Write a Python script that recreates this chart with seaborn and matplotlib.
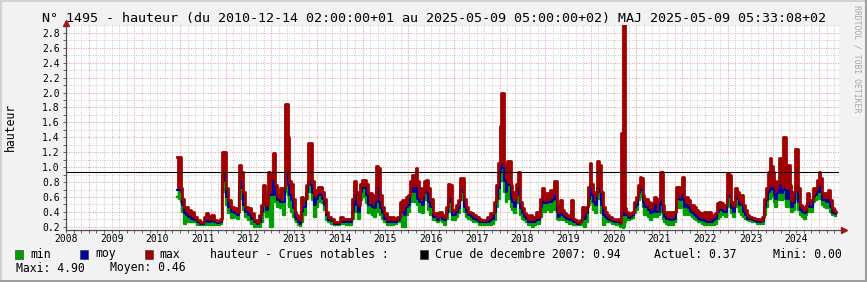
import matplotlib
matplotlib.use("Agg")
import matplotlib.pyplot as plt
import seaborn as sns
import numpy as np
from matplotlib.patches import Rectangle
from matplotlib.lines import Line2D
from matplotlib.ticker import FixedLocator, FuncFormatter, FormatStrFormatter

# ---------------- data (decimal years, heights in m) ----------------
t = [2010.934, 2011.007, 2011.029, 2011.066, 2011.102, 2011.153, 2011.205, 2011.263, 2011.336, 2011.409,
     2011.482, 2011.555, 2011.592, 2011.643, 2011.701, 2011.774, 2011.847, 2011.906, 2011.935, 2011.993,
     2012.037, 2012.081, 2012.140, 2012.213, 2012.271, 2012.322, 2012.359, 2012.395, 2012.446, 2012.519,
     2012.592, 2012.651, 2012.709, 2012.760, 2012.797, 2012.833, 2012.870, 2012.907, 2012.958, 2013.001,
     2013.053, 2013.104, 2013.162, 2013.235,
     2013.272, 2013.308, 2013.337, 2013.374, 2013.410, 2013.454, 2013.491, 2013.527, 2013.564, 2013.600,
     2013.637, 2013.673, 2013.732, 2013.783, 2013.834, 2013.878, 2013.907, 2013.951, 2013.995, 2014.039,
     2014.082, 2014.126, 2014.170, 2014.221, 2014.272, 2014.331, 2014.404, 2014.477, 2014.535, 2014.594,
     2014.659, 2014.732, 2014.784, 2014.827, 2014.871, 2014.915, 2014.959, 2015.003, 2015.047, 2015.098,
     2015.134, 2015.178, 2015.222, 2015.266, 2015.317, 2015.368, 2015.397, 2015.441, 2015.499, 2015.558,
     2015.616, 2015.675,
     2015.718, 2015.791, 2015.850, 2015.893, 2015.937, 2015.981, 2016.025, 2016.069, 2016.098, 2016.142,
     2016.178, 2016.215, 2016.251, 2016.288, 2016.332, 2016.375, 2016.419, 2016.463, 2016.507, 2016.595,
     2016.653, 2016.711, 2016.755, 2016.799, 2016.850, 2016.887, 2016.931, 2016.974, 2017.018, 2017.062,
     2017.106, 2017.150, 2017.194, 2017.237, 2017.281, 2017.340, 2017.398, 2017.457, 2017.515, 2017.573,
     2017.632, 2017.690, 2017.763, 2017.822, 2017.866, 2017.909, 2017.953, 2017.983, 2018.019, 2018.048,
     2018.077, 2018.113, 2018.157, 2018.186, 2018.230, 2018.260, 2018.303, 2018.347, 2018.384, 2018.406,
     2018.435, 2018.464, 2018.508, 2018.552, 2018.603, 2018.654, 2018.698, 2018.742, 2018.785, 2018.829,
     2018.873, 2018.917, 2018.961, 2019.005, 2019.048, 2019.092, 2019.121, 2019.165, 2019.209, 2019.238,
     2019.268, 2019.311, 2019.355, 2019.399, 2019.443, 2019.487, 2019.545, 2019.589, 2019.633, 2019.677,
     2019.735, 2019.793, 2019.837, 2019.867, 2019.910, 2019.954, 2019.991, 2020.027, 2020.071, 2020.115,
     2020.159, 2020.203, 2020.246, 2020.290, 2020.334, 2020.378, 2020.436, 2020.495,
     2020.523, 2020.567, 2020.611, 2020.655, 2020.684, 2020.713, 2020.735, 2020.757, 2020.801, 2020.845,
     2020.889, 2020.932, 2020.976, 2021.020, 2021.064, 2021.093, 2021.122, 2021.152, 2021.195, 2021.239,
     2021.283, 2021.327, 2021.371, 2021.415, 2021.458, 2021.502, 2021.531, 2021.561, 2021.590, 2021.634,
     2021.678, 2021.721, 2021.765, 2021.809, 2021.853, 2021.897, 2021.941, 2021.984, 2022.014, 2022.057,
     2022.101, 2022.145, 2022.189, 2022.233, 2022.277, 2022.320, 2022.364, 2022.408, 2022.452, 2022.496,
     2022.554, 2022.613, 2022.656, 2022.700, 2022.744, 2022.788, 2022.832, 2022.876,
     2022.920, 2022.964, 2023.007, 2023.051, 2023.095, 2023.139, 2023.183, 2023.227, 2023.270, 2023.314,
     2023.358, 2023.402, 2023.446, 2023.504, 2023.563, 2023.621, 2023.679, 2023.738, 2023.782, 2023.826,
     2023.869, 2023.913, 2023.943, 2023.972, 2024.001, 2024.030, 2024.059, 2024.103, 2024.147, 2024.191,
     2024.227, 2024.264, 2024.300, 2024.337, 2024.373, 2024.410, 2024.446, 2024.490, 2024.519, 2024.556,
     2024.600, 2024.644, 2024.688, 2024.731, 2024.761, 2024.804, 2024.848, 2024.892, 2024.936, 2024.980,
     2025.016, 2025.045, 2025.082, 2025.126, 2025.170, 2025.213, 2025.257, 2025.301, 2025.345, 2025.374]

h_max = [1.13, 1.13, 0.72, 0.58, 0.47, 0.47, 0.425, 0.40, 0.335, 0.29,
         0.267, 0.335, 0.38, 0.335, 0.357, 0.29, 0.276, 0.31, 1.21, 1.21,
         0.72, 0.56, 0.47, 0.45, 0.40, 1.03, 0.94, 0.67, 0.47, 0.45,
         0.38, 0.29, 0.267, 0.357, 0.49, 0.76, 0.58, 0.49, 0.94, 0.92,
         1.19, 0.76, 0.63, 0.72,
         0.72, 1.84, 1.84, 1.41, 0.81, 0.78, 0.58, 0.40, 0.357, 0.31,
         0.29, 0.60, 0.58, 0.76, 1.32, 1.32, 0.81, 0.63, 0.69, 0.74,
         0.74, 0.67, 0.58, 0.40, 0.335, 0.31, 0.267, 0.267, 0.335, 0.31,
         0.31, 0.31, 0.58, 0.81, 0.67, 0.49, 0.78, 0.83, 0.83, 0.78,
         0.65, 0.65, 0.63, 0.58, 1.01, 0.99, 0.63, 0.47, 0.38, 0.31,
         0.335, 0.335,
         0.31, 0.335, 0.54, 0.56, 0.49, 0.60, 0.63, 0.81, 0.90, 0.83,
         0.99, 0.81, 0.72, 0.72, 0.63, 0.81, 0.83, 0.72, 0.58, 0.38,
         0.335, 0.40, 0.357, 0.335, 0.47, 0.78, 0.76, 0.425, 0.425, 0.49,
         0.56, 0.85, 0.85, 0.58, 0.47, 0.40, 0.38, 0.357, 0.335, 0.31,
         0.29, 0.29, 0.335, 0.38, 0.38, 0.54, 0.76, 1.05, 1.55, 2.00,
         2.00, 1.03, 0.85, 1.08, 1.08, 0.76, 0.67, 0.58, 0.78, 0.94,
         0.94, 0.54, 0.45, 0.38, 0.357, 0.31, 0.357, 0.31, 0.335, 0.40,
         0.335, 0.58, 0.72, 0.60, 0.65, 0.63, 0.69, 0.69, 0.81, 0.81,
         0.49, 0.40, 0.56, 0.425, 0.38, 0.357, 0.335, 0.56, 0.31, 0.29,
         0.267, 0.29, 0.47, 0.40, 0.47, 0.74, 1.05, 0.78, 0.67, 0.63,
         1.08, 1.03, 0.67, 0.47, 0.40, 0.357, 0.335, 0.31,
         0.31, 0.29, 0.31, 0.267, 1.46, 4.90, 4.90, 0.45, 0.40, 0.357,
         0.38, 0.40, 0.54, 0.60, 0.76, 0.87, 0.85, 0.63, 0.58, 0.58,
         0.54, 0.47, 0.515, 0.60, 0.54, 0.58, 0.94, 0.94, 0.49, 0.40,
         0.40, 0.40, 0.40, 0.40, 0.40, 0.74, 0.74, 0.67, 0.87, 0.60,
         0.60, 0.56, 0.49, 0.49, 0.47, 0.425, 0.40, 0.38, 0.38, 0.40,
         0.40, 0.40, 0.335, 0.357, 0.38, 0.515, 0.54, 0.515,
         0.49, 0.49, 0.92, 0.90, 0.54, 0.49, 0.72, 0.67, 0.58, 0.63,
         0.49, 0.425, 0.357, 0.335, 0.32, 0.31, 0.30, 0.29, 0.335, 0.58,
         0.72, 0.94, 1.12, 1.01, 0.94, 0.81, 0.74, 0.81, 1.12, 0.85,
         1.41, 1.41, 0.72, 1.03, 0.76, 0.56, 0.67, 1.25, 1.25, 0.72,
         0.49, 0.47, 0.425, 0.49, 0.65, 0.56, 0.56, 0.72, 0.72, 0.83,
         0.94, 0.85, 0.65, 0.65, 0.63, 0.69, 0.56, 0.45, 0.425, 0.40]

h_moy = [0.69, 0.69, 0.67, 0.49, 0.38, 0.36, 0.335, 0.31, 0.29, 0.26,
         0.245, 0.267, 0.29, 0.267, 0.276, 0.26, 0.25, 0.267, 0.90, 0.81,
         0.60, 0.47, 0.40, 0.38, 0.357, 0.81, 0.72, 0.49, 0.40, 0.357,
         0.31, 0.26, 0.24, 0.267, 0.40, 0.63, 0.515, 0.425, 0.67, 0.63,
         0.81, 0.63, 0.56, 0.54,
         0.54, 0.90, 0.90, 0.76, 0.63, 0.56, 0.45, 0.335, 0.31, 0.267,
         0.245, 0.40, 0.47, 0.67, 0.81, 0.76, 0.65, 0.49, 0.58, 0.63,
         0.63, 0.58, 0.49, 0.357, 0.29, 0.276, 0.245, 0.235, 0.267, 0.267,
         0.267, 0.267, 0.40, 0.63, 0.49, 0.40, 0.67, 0.72, 0.72, 0.63,
         0.49, 0.49, 0.47, 0.45, 0.72, 0.54, 0.45, 0.38, 0.31, 0.267,
         0.267, 0.267,
         0.267, 0.29, 0.40, 0.40, 0.357, 0.47, 0.49, 0.67, 0.72, 0.67,
         0.72, 0.58, 0.54, 0.54, 0.49, 0.65, 0.67, 0.54, 0.47, 0.335,
         0.29, 0.335, 0.31, 0.29, 0.38, 0.58, 0.54, 0.357, 0.357, 0.40,
         0.45, 0.69, 0.67, 0.47, 0.40, 0.357, 0.335, 0.31, 0.29, 0.267,
         0.26, 0.26, 0.267, 0.29, 0.31, 0.40, 0.58, 0.72, 0.94, 1.03,
         0.99, 0.81, 0.67, 0.76, 0.76, 0.58, 0.54, 0.47, 0.63, 0.72,
         0.67, 0.45, 0.38, 0.335, 0.31, 0.267, 0.267, 0.26, 0.267, 0.29,
         0.29, 0.47, 0.54, 0.515, 0.515, 0.54, 0.54, 0.56, 0.63, 0.58,
         0.40, 0.335, 0.425, 0.357, 0.335, 0.31, 0.29, 0.40, 0.267, 0.26,
         0.245, 0.26, 0.335, 0.31, 0.38, 0.58, 0.76, 0.63, 0.54, 0.49,
         0.72, 0.67, 0.49, 0.357, 0.335, 0.31, 0.29, 0.276,
         0.267, 0.26, 0.267, 0.245, 0.40, 0.357, 0.38, 0.357, 0.357, 0.32,
         0.335, 0.357, 0.45, 0.49, 0.65, 0.69, 0.69, 0.54, 0.47, 0.47,
         0.425, 0.38, 0.40, 0.49, 0.40, 0.40, 0.63, 0.49, 0.40, 0.335,
         0.31, 0.31, 0.29, 0.29, 0.31, 0.58, 0.58, 0.56, 0.67, 0.47,
         0.49, 0.45, 0.40, 0.38, 0.357, 0.335, 0.31, 0.29, 0.29, 0.276,
         0.267, 0.267, 0.267, 0.29, 0.31, 0.40, 0.425, 0.425,
         0.40, 0.40, 0.63, 0.60, 0.45, 0.40, 0.60, 0.58, 0.49, 0.49,
         0.40, 0.357, 0.31, 0.30, 0.29, 0.276, 0.267, 0.267, 0.276, 0.47,
         0.56, 0.67, 0.69, 0.72, 0.69, 0.63, 0.58, 0.65, 0.76, 0.65,
         0.69, 0.72, 0.58, 0.72, 0.58, 0.47, 0.515, 0.76, 0.67, 0.54,
         0.425, 0.40, 0.38, 0.40, 0.515, 0.47, 0.47, 0.60, 0.63, 0.67,
         0.74, 0.67, 0.56, 0.56, 0.54, 0.56, 0.47, 0.39, 0.38, 0.37]

h_min = [0.60, 0.58, 0.54, 0.40, 0.245, 0.29, 0.267, 0.267, 0.26, 0.23,
         0.22, 0.23, 0.245, 0.22, 0.23, 0.22, 0.22, 0.235, 0.72, 0.67,
         0.49, 0.38, 0.32, 0.335, 0.31, 0.67, 0.58, 0.425, 0.335, 0.29,
         0.245, 0.20, 0.22, 0.20, 0.267, 0.49, 0.40, 0.335, 0.63, 0.20,
         0.63, 0.54, 0.47, 0.45,
         0.357, 0.76, 0.67, 0.63, 0.47, 0.40, 0.335, 0.29, 0.26, 0.23,
         0.21, 0.267, 0.357, 0.58, 0.69, 0.67, 0.56, 0.335, 0.47, 0.56,
         0.54, 0.515, 0.425, 0.29, 0.267, 0.245, 0.22, 0.22, 0.235, 0.245,
         0.23, 0.22, 0.31, 0.54, 0.40, 0.31, 0.56, 0.63, 0.60, 0.515,
         0.38, 0.40, 0.357, 0.335, 0.58, 0.40, 0.357, 0.31, 0.267, 0.23,
         0.23, 0.23,
         0.245, 0.26, 0.267, 0.20, 0.20, 0.357, 0.40, 0.54, 0.60, 0.54,
         0.63, 0.49, 0.40, 0.425, 0.38, 0.56, 0.56, 0.425, 0.357, 0.29,
         0.267, 0.29, 0.267, 0.23, 0.31, 0.45, 0.40, 0.29, 0.29, 0.335,
         0.38, 0.58, 0.56, 0.40, 0.335, 0.31, 0.29, 0.267, 0.26, 0.23,
         0.22, 0.22, 0.22, 0.22, 0.245, 0.29, 0.47, 0.58, 0.81, 0.85,
         0.81, 0.67, 0.54, 0.63, 0.58, 0.47, 0.425, 0.38, 0.515, 0.58,
         0.54, 0.357, 0.31, 0.29, 0.267, 0.23, 0.22, 0.20, 0.23, 0.245,
         0.245, 0.335, 0.40, 0.40, 0.425, 0.45, 0.40, 0.425, 0.49, 0.425,
         0.31, 0.29, 0.335, 0.29, 0.29, 0.267, 0.245, 0.31, 0.23, 0.22,
         0.22, 0.23, 0.267, 0.20, 0.267, 0.49, 0.65, 0.54, 0.425, 0.38,
         0.63, 0.58, 0.38, 0.22, 0.267, 0.267, 0.26, 0.245,
         0.235, 0.22, 0.22, 0.20, 0.22, 0.18, 0.20, 0.267, 0.31, 0.29,
         0.31, 0.32, 0.38, 0.425, 0.56, 0.60, 0.60, 0.47, 0.357, 0.38,
         0.335, 0.29, 0.335, 0.40, 0.335, 0.357, 0.47, 0.38, 0.31, 0.267,
         0.245, 0.22, 0.22, 0.22, 0.267, 0.45, 0.45, 0.45, 0.54, 0.357,
         0.40, 0.357, 0.357, 0.335, 0.31, 0.29, 0.267, 0.26, 0.245, 0.23,
         0.22, 0.22, 0.22, 0.23, 0.245, 0.31, 0.335, 0.357,
         0.357, 0.335, 0.49, 0.47, 0.38, 0.335, 0.49, 0.47, 0.40, 0.357,
         0.335, 0.31, 0.29, 0.276, 0.267, 0.26, 0.245, 0.245, 0.245, 0.357,
         0.47, 0.58, 0.58, 0.63, 0.60, 0.54, 0.47, 0.56, 0.65, 0.56,
         0.58, 0.60, 0.47, 0.58, 0.47, 0.40, 0.425, 0.65, 0.56, 0.425,
         0.357, 0.335, 0.31, 0.357, 0.45, 0.40, 0.40, 0.54, 0.56, 0.58,
         0.63, 0.58, 0.49, 0.47, 0.45, 0.47, 0.40, 0.36, 0.357, 0.35]

crue_2007 = 0.94
year_labels = list(range(2008, 2025))
y_major = [0.2, 0.4, 0.6, 0.8, 1.0, 1.2, 1.4, 1.6, 1.8, 2.0, 2.2, 2.4, 2.6, 2.8]

title = "N° 1495 - hauteur (du 2010-12-14 02:00:00+01 au 2025-05-09 05:00:00+02) MAJ 2025-05-09 05:33:08+02"

# ---------------- style ----------------
W, H = 867, 282
MONO = "DejaVu Sans Mono"
GREEN, BLUE, RED = "#00a000", "#0000a0", "#a00000"

fig = plt.figure(figsize=(W / 100, H / 100), dpi=100, facecolor="#f2f2f2")
ax_left, ax_right, ax_top, ax_bot = 66, 839, 25, 229.5
ax = fig.add_axes([ax_left / W, 1 - ax_bot / H, (ax_right - ax_left) / W, (ax_bot - ax_top) / H])
ax.set_facecolor("white")

t_arr = np.array(t)
ax.fill_between(t_arr, h_moy, h_max, step="mid", color=RED, lw=0, zorder=2)
ax.fill_between(t_arr, h_min, h_moy, step="mid", color=GREEN, lw=0, zorder=2)
sns.lineplot(x=t_arr, y=h_min, ax=ax, color=GREEN, linewidth=1.7, drawstyle="steps-mid",
             estimator=None, sort=False, legend=False, zorder=3)
sns.lineplot(x=t_arr, y=h_moy, ax=ax, color=BLUE, linewidth=1.4, drawstyle="steps-mid",
             estimator=None, sort=False, legend=False, zorder=4)
sns.lineplot(x=t_arr, y=h_max, ax=ax, color=RED, linewidth=2.0, drawstyle="steps-mid",
             estimator=None, sort=False, legend=False, zorder=5)
ax.axhline(crue_2007, color="black", lw=0.8, zorder=6)

ax.set_xlim(2008.5, 2025.437)
ax.set_ylim(0.165, 2.905)
ax.set_xlabel("")
ax.set_ylabel("")

# x grid: red at Jan 1, gray every 2 months, labels at mid-year
xmaj = [y for y in range(2009, 2026)]
xmin = [y + k / 6 for y in range(2008, 2026) for k in range(1, 6) if 2008.49 <= y + k / 6 <= 2025.44]
ax.xaxis.set_major_locator(FixedLocator(xmaj))
ax.xaxis.set_minor_locator(FixedLocator(xmin))
ax.xaxis.set_major_formatter(FuncFormatter(lambda v, p: ""))
labset = {y: str(y) for y in year_labels}
ax.xaxis.set_minor_formatter(FuncFormatter(
    lambda v, p: labset.get(int(round(v - 0.5)), "") if abs((v - 0.5) - round(v - 0.5)) < 1e-6 else ""))

ax.yaxis.set_major_locator(FixedLocator(y_major))
ax.yaxis.set_minor_locator(FixedLocator([round(v + 0.1, 1) for v in y_major]))
ax.yaxis.set_major_formatter(FormatStrFormatter("%.1f"))

ax.grid(True, which="major", color="#e9a3a3", lw=0.75, ls=(0, (1, 1.3)), zorder=0)
ax.grid(True, which="minor", color="#cfcfcf", lw=0.75, ls=(0, (1, 1.3)), zorder=0)
ax.set_axisbelow(True)

ax.tick_params(axis="both", which="both", direction="out", length=2, width=0.7, color="#606060",
               labelsize=7, labelcolor="black")
ax.tick_params(axis="x", which="both", pad=1.5)
ax.tick_params(axis="y", which="both", pad=2.5)
for lab in ax.get_xticklabels(minor=True) + ax.get_xticklabels() + ax.get_yticklabels():
    lab.set_fontfamily(MONO)

for s in ax.spines.values():
    s.set_visible(False)
ax.plot([0, 1.005], [0, 0], color="#505050", lw=0.9, transform=ax.transAxes, clip_on=False, zorder=7)
ax.plot([0, 0], [0, 1.0], color="#505050", lw=0.9, transform=ax.transAxes, clip_on=False, zorder=7)
ax.plot([0], [1.012], marker="^", ms=4, color="#9a1a1a", transform=ax.transAxes, clip_on=False, zorder=8)
ax.plot([1.007], [0], marker=">", ms=4, color="#9a1a1a", transform=ax.transAxes, clip_on=False, zorder=8)

# ---------------- texts ----------------
def fx(x):
    return x / W

def fy(y):
    return 1 - y / H

fig.text(0.5, fy(18.5), title, ha="center", va="center", fontsize=9.6, family=MONO)
fig.text(fx(10), fy(127), "hauteur", rotation=90, ha="center", va="center", fontsize=8.3, family=MONO)
fig.text(fx(857.5), fy(59), "RRDTOOL / TOBI OETIKER", rotation=270, ha="center", va="center",
         fontsize=5.9, family=MONO, color="#a8a8a8")

LEG = 8.3
row1, row2 = 254, 268
for x0, col in [(15, GREEN), (80, BLUE), (145, RED), (420, "black")]:
    fig.add_artist(Rectangle((fx(x0), fy(258.5)), 8.3 / W, 8.5 / H, transform=fig.transFigure,
                             facecolor=col, edgecolor="#303030", lw=0.4))
for x0, txt in [(30, "min"), (95, "moy"), (159, "max"), (210, "hauteur - Crues notables :"),
                (435, "Crue de decembre 2007: 0.94"), (654, "Actuel: 0.37"), (773, "Mini: 0.00")]:
    fig.text(fx(x0), fy(row1), txt, ha="left", va="center", fontsize=LEG, family=MONO)
for x0, txt in [(16, "Maxi: 4.90"), (110, "Moyen: 0.46")]:
    fig.text(fx(x0), fy(row2), txt, ha="left", va="center", fontsize=LEG, family=MONO)

# frame shading
for xs, ys, c in [([0, 1], [fy(0.7), fy(0.7)], "#d2d2d2"), ([fx(0.7), fx(0.7)], [0, 1], "#d2d2d2"),
                  ([0, 1], [fy(H - 1), fy(H - 1)], "#9e9e9e"), ([fx(W - 1), fx(W - 1)], [0, 1], "#9e9e9e")]:
    fig.add_artist(Line2D(xs, ys, transform=fig.transFigure, color=c, lw=1.5))

fig.savefig("out.png", dpi=100, facecolor=fig.get_facecolor())
